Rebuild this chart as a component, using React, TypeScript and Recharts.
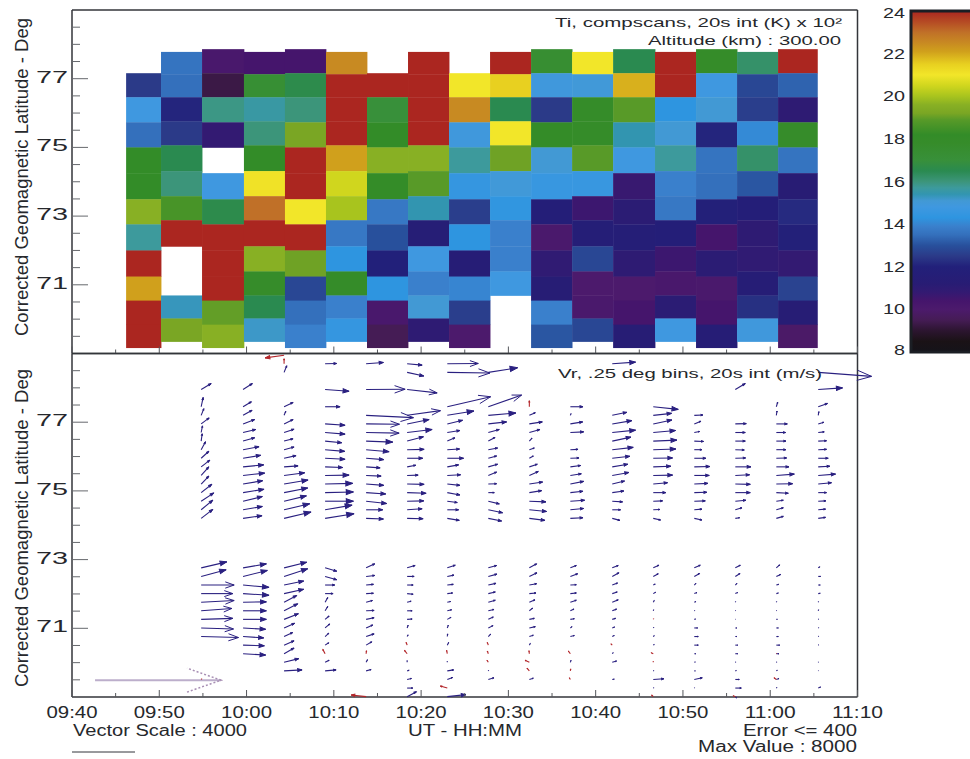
import React from "react";
import { BarChart, Bar, Scatter, ScatterChart, XAxis, YAxis } from "recharts";

// Minutes after 09:40 on the time axis
const TIME_TICKS = [0, 5, 10, 15, 20, 25, 30, 35, 40, 45, 50, 55, 60, 65, 70, 75, 80, 85, 90];
const TIME_LABELS: Record<number, string> = {
  0: "09:40", 10: "09:50", 20: "10:00", 30: "10:10", 40: "10:20",
  50: "10:30", 60: "10:40", 70: "10:50", 80: "11:00", 90: "11:10",
};
const LAT_TICKS = [69.5, 70, 70.5, 71, 71.5, 72, 72.5, 73, 73.5, 74, 74.5, 75, 75.5, 76, 76.5, 77, 77.5, 78, 78.5];
const LAT_LABELS = [71, 73, 75, 77];
const TI_TICKS = [8, 10, 12, 14, 16, 18, 20, 22, 24];

// Colour scale of Ti (x 100 K)
const TI_STOPS: [number, string][] = [
  [8, "#15131a"], [8.5, "#1a1216"], [9, "#2c1530"], [9.5, "#451c55"], [10, "#4c1a6c"],
  [10.4, "#45156c"], [10.8, "#331a72"], [11.2, "#281c74"], [12, "#22207a"], [12.5, "#2b3a88"],
  [13, "#28509c"], [13.5, "#3470bc"], [13.9, "#3a80cc"], [14.3, "#2e95e0"], [14.8, "#3f98e0"],
  [15.1, "#4299d4"], [15.4, "#3295b0"], [15.7, "#3d9a9c"], [16, "#3c957a"], [16.5, "#2a8a50"],
  [17, "#38903a"], [17.8, "#368c2a"], [18.2, "#338c28"], [18.9, "#589a28"], [19.2, "#7aa624"],
  [19.6, "#88b024"], [20, "#a8c41e"], [20.5, "#d0d61e"], [21, "#f2e629"], [21.5, "#e8d020"],
  [22.1, "#d0a01c"], [22.5, "#c88a22"], [23, "#c07028"], [23.5, "#b54a24"], [24, "#ab2620"],
];

// Scan start times of the Ti columns, minutes after 09:40
const TI_TIME_EDGES = [6.2, 10.2, 14.9, 19.7, 24.4, 29.1, 33.8, 38.5, 43.2, 47.9, 52.6, 57.3, 62, 66.8, 71.5, 76.2, 80.9, 85.4];

// Latitude bin edges, the scans alternate between these two
const LAT_EDGES_A = [77.86, 77.16, 76.46, 75.73, 75.0, 74.25, 73.49, 72.76, 72.0, 71.24, 70.54, 69.84, 69.17];
const LAT_EDGES_B = [77.78, 77.13, 76.46, 75.76, 75.06, 74.31, 73.58, 72.88, 72.12, 71.39, 70.69, 70.02, 69.35];

// Ti per scan, north to south
const TI_SCANS: (number | null)[][] = [
  [null, 12.5, 14.8, 13.5, 18.2, 18.2, 19.6, 15.7, 24, 22.1, 24, 24],
  [13.6, 13.5, 12.1, 12.5, 16.5, 16, 18.6, 24, null, null, 15.3, 19.2],
  [10.2, 9.3, 15.9, 10.8, null, 14.8, 16.6, 24, 24, 24, 19, 19.6],
  [10.4, 17.3, 15.6, 16, 18.2, 21.1, 23, 24, 19.6, 17.8, 16.5, 15.2],
  [10.4, 16.6, 16, 19.2, 24, 24, 21, 24, 19.1, 12.8, 13.5, 13.9],
  [22.5, 24, 24, 24, 22.1, 20.5, 20, 13.7, 14.3, 18, 13.9, 14.5],
  [null, 24, 17, 18.2, 19.6, 18.1, 13.7, 13, 12, 14.3, 10.2, 9.5],
  [24, 24, 24, 24, 19.6, 18.9, 15.4, 11.5, 14.8, 13.9, 15.1, 11],
  [null, 21, 22.5, 14.9, 15.7, 14.5, 12.6, 14.3, 11.4, 14, 12.6, 10],
  [24, 21.5, 16.5, 21, 19.1, 15, 14.4, 13.9, 13.9, 14.8, null, null],
  [17.4, 14.9, 12.5, 18.1, 15.1, 14.6, 11.7, 10.1, 10.9, 11.3, 13.9, 13.1],
  [21, 15, 18, 18, 18.9, 14.6, 10.6, 11.6, 12.8, 10, 10.1, 12.8],
  [16.5, 21.9, 18.9, 15.4, 14.8, 10.7, 11.1, 11.6, 11, 10, 10.4, 11.3],
  [24, 24, 14.3, 15.1, 15.7, 13.9, 13.7, 11.7, 10.6, 10.2, 11.1, 14.8],
  [18, 14.8, 15.1, 12.1, 13.6, 13.5, 11.9, 10.4, 11.1, 10.1, 10.4, 11.4],
  [16.2, 12.8, 12.6, 14.1, 16.2, 13.1, 11.7, 11, 10.9, 11.4, 12.3, 14.9],
  [24, 13.3, 11, 17.8, 13.6, 11.2, 12.2, 11.9, 10.8, 12.7, 11.3, 9.9],
];

// Vr scan times, minutes after 09:40
const VR_TIMES = [14.8, 19.6, 24.3, 29, 33.7, 38.4, 43, 47.7, 52.4, 57.1, 61.9, 66.6, 71.3, 76, 80.7, 85.5];

// Vr vectors per scan: [latitude, east m/s, north m/s]
const VR_SCANS: number[][][] = [
  [[74.2, 700, 540], [74.45, 700, 580], [74.7, 760, 500], [74.95, 640, 500], [75.2, 460, 480], [75.45, 460, 520], [75.7, 520, 400], [75.95, 460, 420], [76.2, 260, 480], [76.45, 60, 440], [76.7, 80, 400], [76.95, 480, 360], [77.2, 160, 400], [77.45, 120, 560], [77.95, 600, 360],
   [70.76, 2240, -60], [71.01, 1940, -60], [71.26, 1900, 60], [71.51, 1840, 140], [71.76, 1980, 100], [72.01, 1900, 0], [72.26, 1980, 0], [72.51, 1500, 400], [72.76, 1540, 360]],
  [[74.2, 1140, 160], [74.45, 1160, 200], [74.7, 1160, 280], [74.95, 1260, 200], [75.2, 1180, 200], [75.45, 1300, 140], [75.7, 1240, 120], [75.95, 1060, 180], [76.2, 960, 180], [76.45, 700, 200], [76.7, 760, 180], [76.95, 700, 260], [77.2, 540, 300], [77.45, 500, 300], [77.95, 560, 360],
   [70.26, 1360, -80], [70.51, 1280, -40], [70.76, 1240, -80], [71.01, 1360, -80], [71.26, 1400, 0], [71.51, 1400, 0], [71.76, 1400, 20], [72.01, 1560, -100], [72.26, 1560, -140], [72.51, 1460, 360], [72.76, 1400, 240]],
  [[74.2, 1620, 380], [74.45, 1540, 360], [74.7, 1340, 320], [74.95, 1420, 280], [75.2, 1440, 240], [75.45, 1240, 160], [75.7, 840, 60], [75.95, 720, 160], [76.2, 600, 160], [76.45, 540, 140], [76.7, 600, 200], [76.95, 540, 260], [77.2, 100, 240], [77.45, 540, 260], [78.45, 160, 400],
   [69.76, 1080, 60], [70.01, 880, 220], [70.26, 600, 340], [70.51, 600, 260], [70.76, 520, 240], [71.01, 640, 280], [71.26, 860, 340], [71.51, 820, 420], [71.76, 760, 400], [72.01, 1180, 260], [72.26, 1180, 240], [72.51, 1420, 460], [72.76, 1360, 340]],
  [[74.2, 1740, 280], [74.45, 1620, 280], [74.7, 1700, 0], [74.95, 1700, 40], [75.2, 1660, 40], [75.45, 1440, 20], [75.7, 1060, -40], [75.95, 1200, -60], [76.2, 1180, -100], [76.45, 1000, -100], [76.7, 1200, -100], [76.95, 1200, -80], [77.45, 900, 0], [77.95, 1440, -100], [78.7, 700, 20],
   [69.76, 660, 60], [70.01, 240, 120], [70.51, 220, 140], [70.76, 220, 200], [71.01, 280, 240], [71.26, 240, 200], [71.51, 160, 260], [71.76, 160, 280], [72.01, 480, 0], [72.26, 580, 0], [72.51, 700, -200], [72.76, 700, -200]],
  [[74.2, 1040, -40], [74.45, 1000, 0], [74.7, 1240, -140], [74.95, 1180, -80], [75.2, 1060, -80], [75.45, 900, -40], [75.7, 840, -60], [75.95, 1060, -80], [76.2, 1380, -120], [76.45, 1600, -60], [76.7, 1980, -40], [76.95, 2000, -20], [77.2, 2840, -140], [77.95, 2340, 20], [78.7, 1040, 80],
   [69.76, 300, 80], [70.01, 80, 160], [70.51, 340, 200], [70.76, 480, 160], [71.01, 400, 180], [71.26, 480, 100], [71.51, 480, 20], [71.76, 380, 100], [72.01, 440, 20], [72.26, 440, 40], [72.51, 520, 60], [72.76, 520, 240]],
  [[74.2, 960, -20], [74.45, 900, 60], [74.7, 1000, 20], [74.95, 1140, -40], [75.2, 1020, -20], [75.45, 660, 20], [75.7, 520, 100], [75.95, 940, 0], [76.2, 1020, 20], [76.45, 980, 260], [76.7, 1500, 180], [76.95, 1320, 260], [77.2, 2000, 280], [77.95, 1800, -200], [78.45, 1000, -220], [78.7, 900, -80],
   [69.01, 560, 300], [69.26, 340, 0], [69.51, 260, 60], [69.76, 120, 40], [70.01, 0, 100], [70.76, 60, 100], [71.01, 60, 160], [71.26, 300, 20], [71.51, 300, 0], [71.76, 240, 60], [72.01, 360, -40], [72.26, 360, 0], [72.51, 420, 0], [72.76, 480, 140]],
  [[74.2, 720, -120], [74.45, 680, 0], [74.7, 600, -80], [74.95, 760, -140], [75.2, 760, -80], [75.45, 800, 40], [75.7, 680, 120], [75.95, 980, 0], [76.2, 740, 40], [76.45, 460, 200], [76.7, 760, 120], [76.95, 920, 220], [77.2, 1600, 260], [77.45, 2600, 600], [78.45, 2560, -40], [78.7, 1860, 20],
   [69.01, 1120, 120], [69.51, 320, 120], [69.76, 380, 60], [70.01, 0, 60], [70.51, 80, 160], [70.76, 20, 160], [71.01, 60, 160], [71.26, 220, 120], [71.51, 260, 60], [71.76, 200, 40], [72.01, 320, 40], [72.26, 360, 40], [72.51, 400, 80], [72.76, 480, 160]],
  [[74.2, 800, -160], [74.45, 860, -180], [74.7, 660, -160], [74.95, 360, 0], [75.2, 500, 20], [75.45, 500, 200], [75.7, 560, 160], [75.95, 500, 140], [76.2, 560, 100], [76.45, 400, 220], [76.7, 660, 180], [76.95, 1100, 120], [77.2, 1660, 140], [77.45, 2000, 700], [78.45, 1760, 280],
   [69.51, 340, 100], [69.76, 20, 40], [70.76, 140, 140], [71.01, 280, 140], [71.26, 300, 140], [71.51, 340, 80], [71.76, 420, 120], [72.01, 420, 100], [72.26, 460, 100], [72.51, 520, 140], [72.76, 500, 140]],
  [[74.2, 940, -120], [74.45, 1040, -100], [74.7, 1000, -40], [74.95, 740, 120], [75.2, 800, 120], [75.45, 540, 240], [75.7, 480, 160], [75.95, 240, 140], [76.2, 300, 100], [76.45, 160, 180], [76.7, 640, 180], [76.95, 780, 120], [77.2, 360, 160],
   [69.51, 240, 80], [70.51, 60, 100], [70.76, 240, 80], [71.01, 360, 80], [71.26, 300, 60], [71.51, 200, 160], [71.76, 340, 140], [72.01, 400, 40], [72.26, 440, 80], [72.51, 460, 220], [72.76, 440, 240]],
  [[74.2, 760, 40], [74.45, 800, 80], [74.7, 860, 60], [74.95, 760, 80], [75.2, 800, 160], [75.45, 660, 100], [75.7, 620, 80], [75.95, 520, 20], [76.2, 460, 20], [76.7, 800, 40], [76.95, 740, 120], [77.2, 40, 100], [77.45, 760, 0],
   [70.01, 40, 120], [70.76, 240, 60], [71.01, 100, 80], [71.26, 240, 40], [71.51, 220, 100], [71.76, 360, 120], [72.01, 360, 40], [72.26, 360, 20], [72.51, 440, 160], [72.76, 360, 140]],
  [[74.2, 460, -120], [74.45, 500, 0], [74.7, 620, -40], [74.95, 700, 100], [75.2, 740, 180], [75.45, 1000, 180], [75.7, 940, 160], [75.95, 1060, 120], [76.2, 1260, 140], [76.45, 1120, 240], [76.7, 1400, 140], [76.95, 1180, 200], [77.2, 880, 180], [78.7, 1400, 100],
   [69.51, 120, 20], [70.01, 260, 80], [70.26, 60, 60], [70.76, 120, 60], [71.01, 140, 60], [71.26, 200, 60], [71.51, 260, 100], [71.76, 360, 140], [72.01, 300, 100], [72.26, 320, 120], [72.51, 400, 220], [72.76, 360, 140]],
  [[74.2, 440, -100], [74.45, 400, 20], [74.7, 560, 20], [74.95, 760, 0], [75.2, 860, 80], [75.45, 1160, 20], [75.7, 1060, 40], [75.95, 1160, 20], [76.2, 1360, 40], [76.45, 1420, 60], [76.7, 1340, 120], [76.95, 1120, 240], [77.2, 1100, 120], [77.45, 1500, -160],
   [69.26, 40, 20], [69.51, 640, 40], [69.76, 40, 20], [70.51, 60, 40], [70.76, 60, 60], [71.01, 40, 40], [71.51, 20, 60], [71.76, 60, 100], [72.01, 140, 80], [72.26, 120, 60], [72.51, 300, 160], [72.76, 340, 160]],
  [[74.2, 460, -100], [74.45, 460, 40], [74.7, 660, 20], [74.95, 760, 20], [75.2, 820, 40], [75.45, 900, 0], [75.7, 940, 20], [75.95, 700, 0], [76.2, 460, 0], [76.45, 560, -20], [76.7, 320, 60], [76.95, 400, 160], [77.2, 520, 20],
   [69.26, 20, 20], [69.51, 480, 100], [69.76, 60, 0], [70.01, 60, 20], [70.26, 100, 0], [70.51, 240, 0], [70.76, 240, 0], [71.01, 200, 0], [71.26, 80, 20], [71.51, 40, 20], [71.76, 100, 40], [72.01, 160, 60], [72.26, 100, 100], [72.51, 320, 180], [72.76, 360, 160]],
  [[74.2, 260, 40], [74.45, 400, 120], [74.7, 640, 60], [74.95, 900, 0], [75.2, 900, -20], [75.45, 860, 40], [75.7, 940, 0], [75.95, 620, 20], [76.2, 540, -20], [76.45, 600, 0], [76.7, 600, 0], [76.95, 660, 20], [77.95, 600, 360],
   [69.01, 80, -80], [69.26, 360, 0], [69.51, 240, 0], [69.76, 60, 20], [70.01, 40, 20], [70.26, 140, 0], [70.51, 140, 0], [70.76, 100, 0], [71.01, 100, 0], [71.26, 20, 0], [71.51, 20, 20], [71.76, 20, 40], [72.01, 140, 60], [72.26, 100, 100], [72.51, 280, 180], [72.76, 300, 160]],
  [[74.2, 420, 120], [74.45, 420, 120], [74.7, 420, 60], [74.95, 720, -40], [75.2, 980, 20], [75.45, 1080, 80], [75.7, 760, 0], [75.95, 620, 20], [76.2, 580, 0], [76.45, 580, 0], [76.7, 560, 0], [76.95, 660, 0], [77.2, 40, 260], [77.45, 80, 280],
   [69.26, 40, 40], [69.51, 160, 60], [69.76, 60, 40], [70.01, 40, 20], [70.26, 160, 0], [70.51, 200, 0], [70.76, 120, 0], [71.01, 120, 0], [71.26, 60, 0], [71.51, 20, 20], [71.76, 20, 40], [72.01, 120, 40], [72.26, 140, 40], [72.51, 260, 120], [72.76, 200, 180]],
  [[74.2, 440, 60], [74.45, 440, 40], [74.7, 460, 20], [74.95, 500, 0], [75.2, 800, 80], [75.45, 1040, 80], [75.7, 700, 40], [75.95, 600, 0], [76.2, 500, 20], [76.45, 500, 20], [76.7, 360, 40], [76.95, 340, 100], [77.2, 40, 220], [77.45, 560, 200], [77.95, 1460, 100], [78.45, 3200, -240],
   [69.26, 140, 60], [69.76, 20, 20], [70.01, 20, 20], [70.51, 40, 20], [70.76, 40, 20], [71.01, 40, 20], [71.26, 40, 20], [71.51, 20, 60], [71.76, 20, 40], [72.01, 120, 20], [72.26, 120, 0], [72.51, 140, 0], [72.76, 100, 60]],
];

// Red vectors (velocity towards the instrument flagged): [time, latitude, east, north]
const VR_FLAGGED = [
  [14.8, 69.51, 40, 40], [24.3, 78.95, -1140, -160], [24.3, 78.7, 0, 300], [29, 70.26, -140, 260],
  [33.7, 70.26, 20, 180], [33.7, 69.01, -900, 100], [38.4, 70.26, -160, 200], [38.4, 70.51, -60, 160],
  [43, 70.26, -40, 200], [43, 69.26, -420, 120], [47.7, 70.01, -80, 120], [47.7, 70.26, -60, 160],
  [47.7, 70.51, -60, 160], [52.4, 69.76, -140, 160], [52.4, 70.01, -260, 120], [52.4, 70.26, -20, 180],
  [52.4, 77.45, 0, 360], [57.1, 69.51, -60, 100], [57.1, 69.76, 20, 120], [57.1, 70.26, -120, 160],
  [61.9, 70.51, -80, 80], [66.6, 69.01, -100, 100], [66.6, 70.01, 0, 60], [66.6, 70.26, -120, 60],
  [66.6, 71.26, 20, 40], [76, 69.01, -120, 60], [80.7, 69.51, -140, 100], [80.7, 70.26, 20, 20],
];

// Vector drawn at the maximum value
const VR_REFERENCE = [{ time: 2.64, lat: 69.49, east: 7560, north: 0 }];

const PLOT_LEFT = 72;
const PLOT_RIGHT = 857.5;
const PANEL_HEIGHT = 343.5;
const PX_PER_MIN = (PLOT_RIGHT - PLOT_LEFT) / 90;
const PX_PER_DEG = PANEL_HEIGHT / 10;
const PX_PER_MS = 1 / 60;
const OPEN_HEAD_PX = 30;
const AXIS_COLOR = "#33353a";
const TEXT_COLOR = "#26282c";
const FONT = "'Liberation Sans', Arial, sans-serif";

const tiColor = (v: number) => {
  const i = TI_STOPS.findIndex(([s]) => s >= v);
  if (i <= 0) return TI_STOPS[0][1];
  const [v0, c0] = TI_STOPS[i - 1];
  const [v1, c1] = TI_STOPS[i];
  const f = (v - v0) / (v1 - v0);
  const mix = (p: number) => {
    const a = parseInt(c0.slice(p, p + 2), 16);
    const b = parseInt(c1.slice(p, p + 2), 16);
    return Math.round(a + (b - a) * f);
  };
  return `rgb(${mix(1)},${mix(3)},${mix(5)})`;
};

// One rectangle per scan and latitude bin
const tiCells = TI_SCANS.flatMap((scan, c) => {
  const edges = c % 2 === 0 ? LAT_EDGES_A : LAT_EDGES_B;
  return scan.flatMap((ti, r) =>
    ti === null
      ? []
      : [{
          time: (TI_TIME_EDGES[c] + TI_TIME_EDGES[c + 1]) / 2,
          lat: (edges[r] + edges[r + 1]) / 2,
          minutes: TI_TIME_EDGES[c + 1] - TI_TIME_EDGES[c],
          degrees: edges[r] - edges[r + 1],
          ti,
        }]
  );
});

const vrVectors = VR_SCANS.flatMap((scan, c) =>
  scan.map(([lat, east, north]) => ({ time: VR_TIMES[c], lat, east, north }))
);
const vrFlagged = VR_FLAGGED.map(([time, lat, east, north]) => ({ time, lat, east, north }));

const CellShape = (props: any) => {
  const { cx, cy, payload } = props;
  const w = payload.minutes * PX_PER_MIN;
  const h = payload.degrees * PX_PER_DEG;
  // small overlap so no seams show between the cells
  return <rect x={cx - w / 2} y={cy - h / 2} width={w + 0.4} height={h + 0.4} fill={tiColor(payload.ti)} />;
};

const arrowShape = (color: string, width = 1.1, headDash?: string, headColor?: string) => (props: any) => {
  const { cx, cy, payload } = props;
  const dx = payload.east * PX_PER_MS;
  const dy = -payload.north * PX_PER_MS;
  const tipX = cx + dx;
  const tipY = cy + dy;
  const backX = tipX - dx * 0.27;
  const backY = tipY - dy * 0.27;
  const sideX = -dy * 0.095;
  const sideY = dx * 0.095;
  // short arrows come out with a solid head, long ones stay open
  const solid = Math.hypot(dx, dy) < OPEN_HEAD_PX;
  return (
    <g fill="none">
      <line x1={cx} y1={cy} x2={tipX} y2={tipY} stroke={color} strokeWidth={width} />
      <polyline
        points={`${backX + sideX},${backY + sideY} ${tipX},${tipY} ${backX - sideX},${backY - sideY}`}
        stroke={headColor ?? color}
        strokeWidth={headDash ? 1.5 : 1}
        strokeDasharray={headDash}
        fill={solid ? color : "none"}
      />
    </g>
  );
};

// Ticks point into the plot, 1 = downwards, -1 = upwards
const timeTick = (dir: number, labelled = false) => (props: any) => {
  const { x, y, payload } = props;
  const major = payload.value % 10 === 0;
  return (
    <g>
      <line x1={x} x2={x} y1={y} y2={y + dir * (major ? 7 : 4)} stroke="#55575c" />
      {labelled && major && (
        <text
          x={x}
          y={y + 20.5}
          textAnchor="middle"
          fontSize={17}
          fontFamily={FONT}
          fill={TEXT_COLOR}
          textLength={51}
          lengthAdjust="spacingAndGlyphs"
        >
          {TIME_LABELS[payload.value]}
        </text>
      )}
    </g>
  );
};

const latTick = (dir: number, labelled = false) => (props: any) => {
  const { x, y, payload } = props;
  const major = LAT_LABELS.includes(payload.value);
  return (
    <g>
      <line x1={x} x2={x + dir * (major ? 16 : 8)} y1={y} y2={y} stroke="#66686d" />
      {labelled && major && (
        <text
          x={x - 4}
          y={y + 4}
          textAnchor="end"
          fontSize={16}
          fontFamily={FONT}
          fill={TEXT_COLOR}
          textLength={32}
          lengthAdjust="spacingAndGlyphs"
        >
          {payload.value}
        </text>
      )}
    </g>
  );
};

const tiTick = (props: any) => {
  const { x, y, payload } = props;
  const nudge = payload.value === 24 ? 2 : payload.value === 8 ? -2 : 0;
  return (
    <text
      x={x - 6}
      y={y + 5 + nudge}
      textAnchor="end"
      fontSize={14}
      fontFamily={FONT}
      fill={TEXT_COLOR}
      textLength={payload.value < 10 ? 11 : 22}
      lengthAdjust="spacingAndGlyphs"
    >
      {payload.value}
    </text>
  );
};

// Axis sizes of 1px, the axis draws nothing at 0
const panelAxes = (bottomLabels: boolean) => {
  const line = { stroke: AXIS_COLOR, strokeWidth: 1.5 };
  return [
    <XAxis key="b" dataKey="time" type="number" domain={[0, 90]} ticks={TIME_TICKS} interval={0} height={1} tickSize={0} tickMargin={0} axisLine={line} tickLine={false} tick={timeTick(-1, bottomLabels)} />,
    <XAxis key="t" xAxisId="top" orientation="top" type="number" domain={[0, 90]} ticks={TIME_TICKS} interval={0} height={1} tickSize={0} tickMargin={0} axisLine={line} tickLine={false} tick={timeTick(1)} />,
    <YAxis key="l" dataKey="lat" type="number" domain={[69, 79]} ticks={LAT_TICKS} interval={0} width={1} tickSize={0} tickMargin={0} axisLine={line} tickLine={false} tick={latTick(1, true)} />,
    <YAxis key="r" yAxisId="right" orientation="right" type="number" domain={[69, 79]} ticks={LAT_TICKS} interval={0} width={1} tickSize={0} tickMargin={0} axisLine={line} tickLine={false} tick={latTick(-1)} />,
  ];
};

const Note = ({ x, y, length, size, children, rotate }: any) => (
  <text
    x={x}
    y={y}
    fontSize={size}
    fontFamily={FONT}
    fill={TEXT_COLOR}
    textLength={length}
    lengthAdjust="spacingAndGlyphs"
    transform={rotate ? `rotate(-90 ${x} ${y})` : undefined}
  >
    {children}
  </text>
);

const layer: React.CSSProperties = { position: "absolute", left: 0, top: 0 };

export default function App() {
  const side = { left: PLOT_LEFT - 1, right: 970 - PLOT_RIGHT - 1 };
  return (
    <div style={{ position: "absolute", left: 0, top: 0, width: 970, height: 759, overflow: "hidden", background: "#fff" }}>
      {/* Ti panel */}
      <div style={layer}>
        <ScatterChart width={970} height={759} margin={{ ...side, top: 10 - 1, bottom: 759 - 10 - PANEL_HEIGHT - 1 }}>
          {panelAxes(false)}
          <Scatter data={tiCells} shape={CellShape} isAnimationActive={false} />
        </ScatterChart>
      </div>

      {/* Vr panel */}
      <div style={layer}>
        <ScatterChart width={970} height={759} margin={{ ...side, top: 10 + PANEL_HEIGHT - 1, bottom: 759 - 10 - 2 * PANEL_HEIGHT - 1 }}>
          {panelAxes(true)}
          <Scatter data={VR_REFERENCE} shape={arrowShape("#bcaecb", 2, "2 2", "#a88fb4")} isAnimationActive={false} />
          <Scatter data={vrVectors} shape={arrowShape("#2a2080")} isAnimationActive={false} />
          <Scatter data={vrFlagged} shape={arrowShape("#b3262a")} isAnimationActive={false} />
        </ScatterChart>
      </div>

      {/* Colour bar */}
      <div style={layer}>
        <BarChart
          width={1010}
          height={759}
          data={[{ name: "Ti", range: [8, 24] }]}
          barCategoryGap={0}
          margin={{ left: 910, right: 0, top: 11, bottom: 759 - 352 }}
        >
          <defs>
            <linearGradient id="tiRamp" x1="0" y1="0" x2="0" y2="1">
              {[...TI_STOPS].reverse().map(([v, c]) => (
                <stop key={v} offset={(24 - v) / 16} stopColor={c} />
              ))}
            </linearGradient>
          </defs>
          <XAxis dataKey="name" hide />
          <YAxis type="number" domain={[8, 24]} ticks={TI_TICKS} interval={0} width={1} tickSize={0} tickMargin={0} axisLine={false} tickLine={false} tick={tiTick} />
          <Bar dataKey="range" fill="url(#tiRamp)" stroke="#1b1e24" strokeWidth={3} isAnimationActive={false} />
        </BarChart>
      </div>

      {/* Annotations */}
      <svg width={970} height={759} style={layer}>
        <Note x={555} y={27} length={287} size={13}>Ti, compscans, 20s int (K) x 10²</Note>
        <Note x={648} y={45} length={193} size={13}>Altitude (km) : 300.00</Note>
        <Note x={558} y={378} length={264} size={13}>Vr, .25 deg bins, 20s int (m/s)</Note>
        <Note x={28} y={336} length={318} size={19} rotate>Corrected Geomagnetic Latitude - Deg</Note>
        <Note x={28} y={687} length={318} size={19} rotate>Corrected Geomagnetic Latitude - Deg</Note>
        <Note x={73} y={735.5} length={174} size={16}>Vector Scale : 4000</Note>
        <Note x={408} y={735.5} length={114} size={16}>UT - HH:MM</Note>
        <Note x={743} y={735.5} length={114} size={16}>Error &lt;= 400</Note>
        <Note x={698} y={752} length={159} size={16}>Max Value : 8000</Note>
        <line x1={72} x2={135} y1={752} y2={752} stroke={AXIS_COLOR} strokeWidth={1} />
      </svg>
    </div>
  );
}
